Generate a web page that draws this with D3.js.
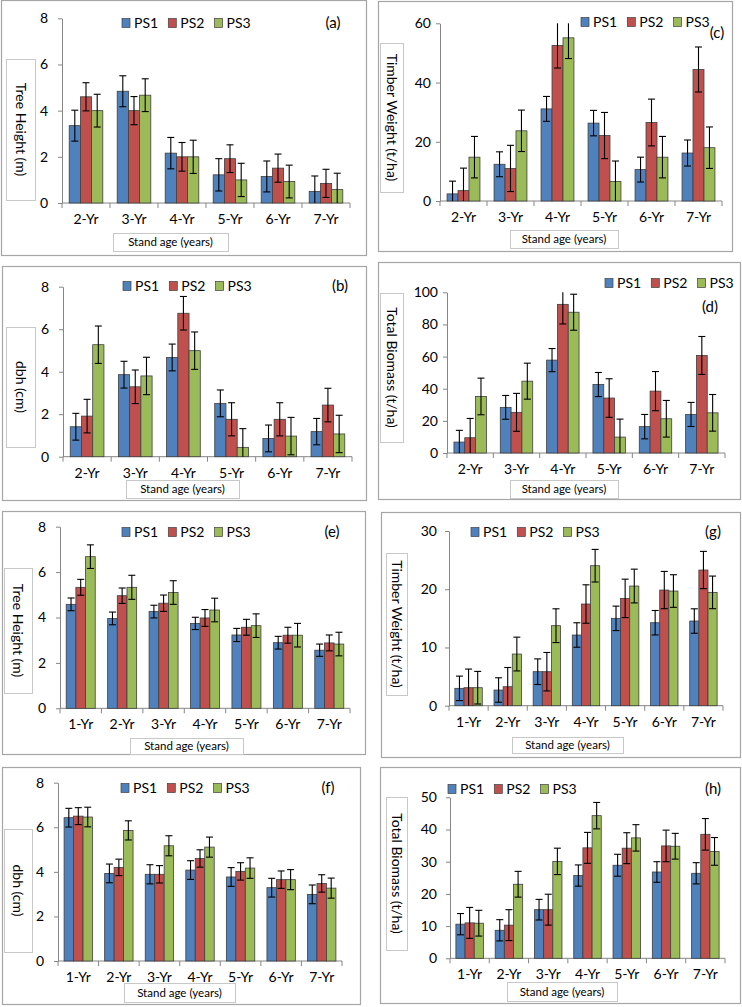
<!DOCTYPE html>
<html>
<head>
<meta charset="utf-8">
<script src="https://cdn.jsdelivr.net/npm/d3@7"></script>
<style>
  body { margin: 0; background: #fff; }
  svg { display: block; font-family: Lato, "Open Sans", sans-serif; }
  .frame { fill: #fff; stroke: #a6a6a6; stroke-width: 1.2; }
  .label-box { fill: #fff; stroke: #c8c8c8; stroke-width: 1; }
  .axis path, .axis line { stroke: #868686; }
  .axis text { fill: #000; font-size: 14px; font-family: Lato, sans-serif; }
</style>
</head>
<body>
<div id="chart"></div>
<script>

// 1. Data

const seriesNames = ["PS1", "PS2", "PS3"];
const agesOld = ["2-Yr", "3-Yr", "4-Yr", "5-Yr", "6-Yr", "7-Yr"];
const agesNew = ["1-Yr", "2-Yr", "3-Yr", "4-Yr", "5-Yr", "6-Yr", "7-Yr"];

// (a) tree height, old stands
const heightOld = [
    [3.35, 4.84, 2.16, 1.22, 1.15, 0.50],
    [4.60, 4.00, 2.00, 1.92, 1.51, 0.85],
    [4.00, 4.67, 2.00, 1.00, 0.93, 0.58]
];
const heightOldErr = [
    [0.67, 0.67, 0.68, 0.70, 0.67, 0.67],
    [0.61, 0.61, 0.62, 0.60, 0.61, 0.61],
    [0.71, 0.71, 0.72, 0.72, 0.71, 0.71]
];

// (b) dbh, old stands
const dbhOld = [
    [1.41, 3.86, 4.67, 2.51, 0.86, 1.18],
    [1.91, 3.29, 6.75, 1.76, 1.76, 2.43],
    [5.27, 3.80, 4.99, 0.44, 0.97, 1.07]
];
const dbhOldErr = [
    [0.63, 0.63, 0.63, 0.63, 0.63, 0.62],
    [0.79, 0.79, 0.79, 0.78, 0.78, 0.79],
    [0.88, 0.88, 0.88, 0.88, 0.88, 0.88]
];

// (c) timber weight, old stands
const timberOld = [
    [2.4, 12.4, 31.1, 26.3, 10.6, 16.2],
    [3.5, 11.0, 52.5, 22.1, 26.5, 44.4],
    [14.8, 23.7, 55.1, 6.6, 14.8, 18.0]
];
const timberOldErr = [
    [4.3, 4.2, 4.2, 4.3, 4.2, 4.4],
    [7.6, 7.8, 7.6, 7.8, 7.9, 7.6],
    [7.0, 7.0, 7.0, 6.9, 7.0, 7.0]
];

// (d) total biomass, old stands
const biomassOld = [
    [6.8, 28.4, 57.8, 42.6, 16.4, 24.0],
    [9.5, 25.3, 92.5, 34.2, 38.5, 60.7],
    [35.2, 44.7, 87.6, 9.9, 21.3, 25.0]
];
const biomassOldErr = [
    [7.3, 7.4, 7.2, 7.5, 7.6, 7.5],
    [12.0, 11.8, 12.2, 12.0, 12.2, 11.8],
    [11.4, 11.2, 11.2, 11.2, 11.4, 11.4]
];

// (e) tree height, new stands
const heightNew = [
    [4.58, 3.96, 4.26, 3.74, 3.23, 2.89, 2.56],
    [5.33, 4.96, 4.63, 3.98, 3.57, 3.22, 2.88],
    [6.68, 5.33, 5.10, 4.33, 3.64, 3.22, 2.83]
];
const heightNewErr = [
    [0.28, 0.28, 0.28, 0.27, 0.29, 0.28, 0.27],
    [0.35, 0.34, 0.36, 0.37, 0.35, 0.35, 0.35],
    [0.52, 0.53, 0.52, 0.52, 0.52, 0.52, 0.52]
];

// (f) dbh, new stands
const dbhNew = [
    [6.43, 3.93, 3.89, 4.08, 3.77, 3.29, 2.99],
    [6.50, 4.20, 3.89, 4.60, 4.02, 3.65, 3.48],
    [6.46, 5.86, 5.17, 5.11, 4.17, 3.65, 3.27]
];
const dbhNewErr = [
    [0.42, 0.42, 0.43, 0.42, 0.42, 0.42, 0.42],
    [0.38, 0.37, 0.39, 0.39, 0.39, 0.39, 0.39],
    [0.44, 0.43, 0.45, 0.45, 0.46, 0.45, 0.45]
];

// (g) timber weight, new stands
const timberNew = [
    [2.98, 2.69, 5.84, 12.14, 15.00, 14.25, 14.54],
    [3.09, 3.26, 5.84, 17.46, 18.43, 19.86, 23.30],
    [3.09, 8.87, 13.74, 24.04, 20.55, 19.69, 19.46]
];
const timberNewErr = [
    [2.1, 2.1, 2.2, 2.1, 2.1, 2.1, 2.1],
    [3.2, 3.3, 3.3, 3.3, 3.3, 3.2, 3.2],
    [2.8, 2.9, 2.9, 2.8, 2.9, 2.8, 2.8]
];

// (h) total biomass, new stands
const biomassNew = [
    [10.6, 8.7, 15.1, 25.7, 28.9, 26.8, 26.4],
    [11.0, 10.3, 15.1, 34.3, 34.2, 34.9, 38.5],
    [10.9, 23.0, 30.1, 44.3, 37.4, 34.8, 33.2]
];
const biomassNewErr = [
    [3.3, 3.3, 3.2, 3.3, 3.4, 3.2, 3.3],
    [4.8, 4.8, 4.8, 4.8, 4.8, 4.9, 4.9],
    [4.0, 4.0, 4.1, 4.1, 4.1, 4.0, 4.3]
];

const palette = ["#4f81bd", "#c0504d", "#9bbb59"];

const panels = [
    { tag: "(a)", ylabel: "Tree Height (m)", cats: agesOld, vals: heightOld, errs: heightOldErr,
      yMax: 8, yStep: 2, gap: 10,
      frame: [1, 0, 365, 255], plot: [62, 350, 203, 18.3],
      ybox: [6, 59, 29, 141], xbox: [113, 233, 115, 18], legend: [122, 23], tagAt: [333, 23] },
    { tag: "(b)", ylabel: "dbh (cm)", cats: agesOld, vals: dbhOld, errs: dbhOldErr,
      yMax: 8, yStep: 2, gap: 10,
      frame: [2, 266, 364, 234], plot: [63, 352, 456.7, 286.7],
      ybox: [6, 327, 29, 120], xbox: [126, 480, 113, 18], legend: [123, 286], tagAt: [340, 286] },
    { tag: "(c)", ylabel: "Timber Weight (t/ha)", cats: agesOld, vals: timberOld, errs: timberOldErr,
      yMax: 60, yStep: 20, gap: 5,
      frame: [378, 1, 354, 250], plot: [440, 722, 201, 23.3],
      ybox: [380, 43, 23, 149], xbox: [510, 230, 108, 18], legend: [581, 22], tagAt: [717, 33] },
    { tag: "(d)", ylabel: "Total Biomass (t/ha)", cats: agesOld, vals: biomassOld, errs: biomassOldErr,
      yMax: 100, yStep: 20, gap: 5,
      frame: [378, 262, 362, 237], plot: [447, 725, 453, 292.3],
      ybox: [380, 293, 23, 149], xbox: [510, 480, 108, 18], legend: [605, 283], tagAt: [710, 307] },
    { tag: "(e)", ylabel: "Tree Height (m)", cats: agesNew, vals: heightNew, errs: heightNewErr,
      yMax: 8, yStep: 2, gap: 10,
      frame: [2, 511, 363, 243], plot: [60, 350, 708.3, 526.7],
      ybox: [4, 568, 28, 125], xbox: [130, 738, 113, 16], legend: [122, 532], tagAt: [332, 532] },
    { tag: "(g)", ylabel: "Timber Weight (t/ha)", cats: agesNew, vals: timberNew, errs: timberNewErr,
      yMax: 30, yStep: 10, gap: 8,
      frame: [381, 512, 359, 245], plot: [449, 723, 705.7, 531],
      ybox: [386, 553, 21, 142], xbox: [512, 737, 111, 16], legend: [471, 532], tagAt: [713, 532] },
    { tag: "(f)", ylabel: "dbh (cm)", cats: agesNew, vals: dbhNew, errs: dbhNewErr,
      yMax: 8, yStep: 2, gap: 10,
      frame: [2, 767, 358, 237], plot: [58, 342, 961, 782.7],
      ybox: [4, 829, 28, 123], xbox: [124, 983, 111, 19], legend: [121, 788], tagAt: [328, 788] },
    { tag: "(h)", ylabel: "Total Biomass (t/ha)", cats: agesNew, vals: biomassNew, errs: biomassNewErr,
      yMax: 50, yStep: 10, gap: 9,
      frame: [380, 767, 360, 236], plot: [450, 725, 958.3, 797.3],
      ybox: [386, 797, 21, 153], xbox: [507, 982, 110, 19], legend: [448, 789], tagAt: [713, 789] }
];

// 3. Draw canvas

const svg = d3.select("#chart")
    .append("svg")
        .attr("width", 742)
        .attr("height", 1007);

svg.append("rect")
    .attr("width", 742)
    .attr("height", 1007)
    .attr("fill", "#fff");

panels.forEach(drawPanel);

function drawPanel(p) {
    const g = svg.append("g");

    g.append("rect")
        .attr("class", "frame")
        .attr("x", p.frame[0] + 0.5).attr("y", p.frame[1] + 0.5)
        .attr("width", p.frame[2]).attr("height", p.frame[3]);

    // scales
    const x = d3.scaleBand()
        .domain(p.cats)
        .range([p.plot[0], p.plot[1]])
        .paddingInner(0.3)
        .paddingOuter(0.15);

    const xSeries = d3.scaleBand()
        .domain(seriesNames)
        .range([0, x.bandwidth()]);

    const y = d3.scaleLinear()
        .domain([0, p.yMax])
        .range([p.plot[2], p.plot[3]]);

    // y axis
    g.append("g")
        .attr("class", "axis")
        .attr("transform", `translate(${p.plot[0]},0)`)
        .call(d3.axisLeft(y)
            .tickValues(d3.range(0, p.yMax + 0.001, p.yStep))
            .tickSize(4)
            .tickSizeOuter(0)
            .tickPadding(p.gap));

    // x axis: labels centred, ticks between categories
    const xAxis = g.append("g")
        .attr("class", "axis")
        .attr("transform", `translate(0,${p.plot[2]})`)
        .call(d3.axisBottom(x).tickSize(0).tickSizeOuter(0).tickPadding(11));
    xAxis.select(".domain").attr("d", `M${p.plot[0]},0H${p.plot[1]}`);

    const bounds = p.cats.map(c => x(c) - x.step() * x.paddingInner() / 2).concat([p.plot[1]]);
    xAxis.selectAll(".cat-tick")
        .data(bounds)
        .join("line")
            .attr("class", "cat-tick")
            .attr("x1", d => d).attr("x2", d => d)
            .attr("y1", 0).attr("y2", 5)
            .attr("stroke", "#868686");

    // bars
    const rows = [];
    p.cats.forEach((c, i) => {
        seriesNames.forEach((s, k) => {
            rows.push({ cat: c, series: s, k: k, v: p.vals[k][i], e: p.errs[k][i] });
        });
    });

    g.append("g")
        .selectAll("rect")
        .data(rows)
        .join("rect")
            .attr("x", d => x(d.cat) + xSeries(d.series))
            .attr("y", d => y(d.v))
            .attr("width", xSeries.bandwidth())
            .attr("height", d => y(0) - y(d.v))
            .attr("fill", d => palette[d.k])
            .attr("stroke", "#3f3f3f")
            .attr("stroke-width", 0.8);

    // error bars (clipped at axis max, like the original)
    const errG = g.append("g")
        .attr("stroke", "#000")
        .attr("stroke-width", 1.1);
    const cx = d => x(d.cat) + xSeries(d.series) + xSeries.bandwidth() / 2;
    const hi = d => y(Math.min(d.v + d.e, p.yMax));
    const lo = d => y(Math.max(d.v - d.e, 0));

    errG.selectAll(".stem")
        .data(rows)
        .join("line")
            .attr("x1", cx).attr("x2", cx)
            .attr("y1", hi).attr("y2", lo);
    errG.selectAll(".cap-hi")
        .data(rows.filter(d => d.v + d.e <= p.yMax))
        .join("line")
            .attr("x1", d => cx(d) - 3.5).attr("x2", d => cx(d) + 3.5)
            .attr("y1", hi).attr("y2", hi);
    errG.selectAll(".cap-lo")
        .data(rows.filter(d => d.v - d.e >= 0))
        .join("line")
            .attr("x1", d => cx(d) - 3.5).attr("x2", d => cx(d) + 3.5)
            .attr("y1", lo).attr("y2", lo);

    // legend
    const leg = g.append("g")
        .attr("transform", `translate(${p.legend[0]},${p.legend[1]})`);
    seriesNames.forEach((s, k) => {
        leg.append("rect")
            .attr("x", k * 46.3).attr("y", -4.5)
            .attr("width", 8).attr("height", 9)
            .attr("fill", palette[k])
            .attr("stroke", "#3f3f3f")
            .attr("stroke-width", 0.7);
        leg.append("text")
            .attr("x", k * 46.3 + 12).attr("y", 0)
            .attr("dy", "0.35em")
            .attr("font-size", 14)
            .text(s);
    });

    // panel tag
    g.append("text")
        .attr("x", p.tagAt[0]).attr("y", p.tagAt[1])
        .attr("dy", "0.35em")
        .attr("text-anchor", "middle")
        .attr("font-size", 15)
        .text(p.tag);

    // y label box
    g.append("rect")
        .attr("class", "label-box")
        .attr("x", p.ybox[0] + 0.5).attr("y", p.ybox[1] + 0.5)
        .attr("width", p.ybox[2]).attr("height", p.ybox[3]);
    g.append("text")
        .attr("transform", `translate(${p.ybox[0] + p.ybox[2] / 2},${p.ybox[1] + p.ybox[3] / 2}) rotate(90)`)
        .attr("text-anchor", "middle")
        .attr("dy", "0.35em")
        .attr("font-size", 14)
        .text(p.ylabel);

    // x label box
    g.append("rect")
        .attr("class", "label-box")
        .attr("x", p.xbox[0] + 0.5).attr("y", p.xbox[1] + 0.5)
        .attr("width", p.xbox[2]).attr("height", p.xbox[3]);
    g.append("text")
        .attr("x", p.xbox[0] + p.xbox[2] / 2)
        .attr("y", p.xbox[1] + p.xbox[3] / 2)
        .attr("dy", "0.35em")
        .attr("text-anchor", "middle")
        .attr("font-size", 11.5)
        .text("Stand age (years)");
}

</script>
</body>
</html>
